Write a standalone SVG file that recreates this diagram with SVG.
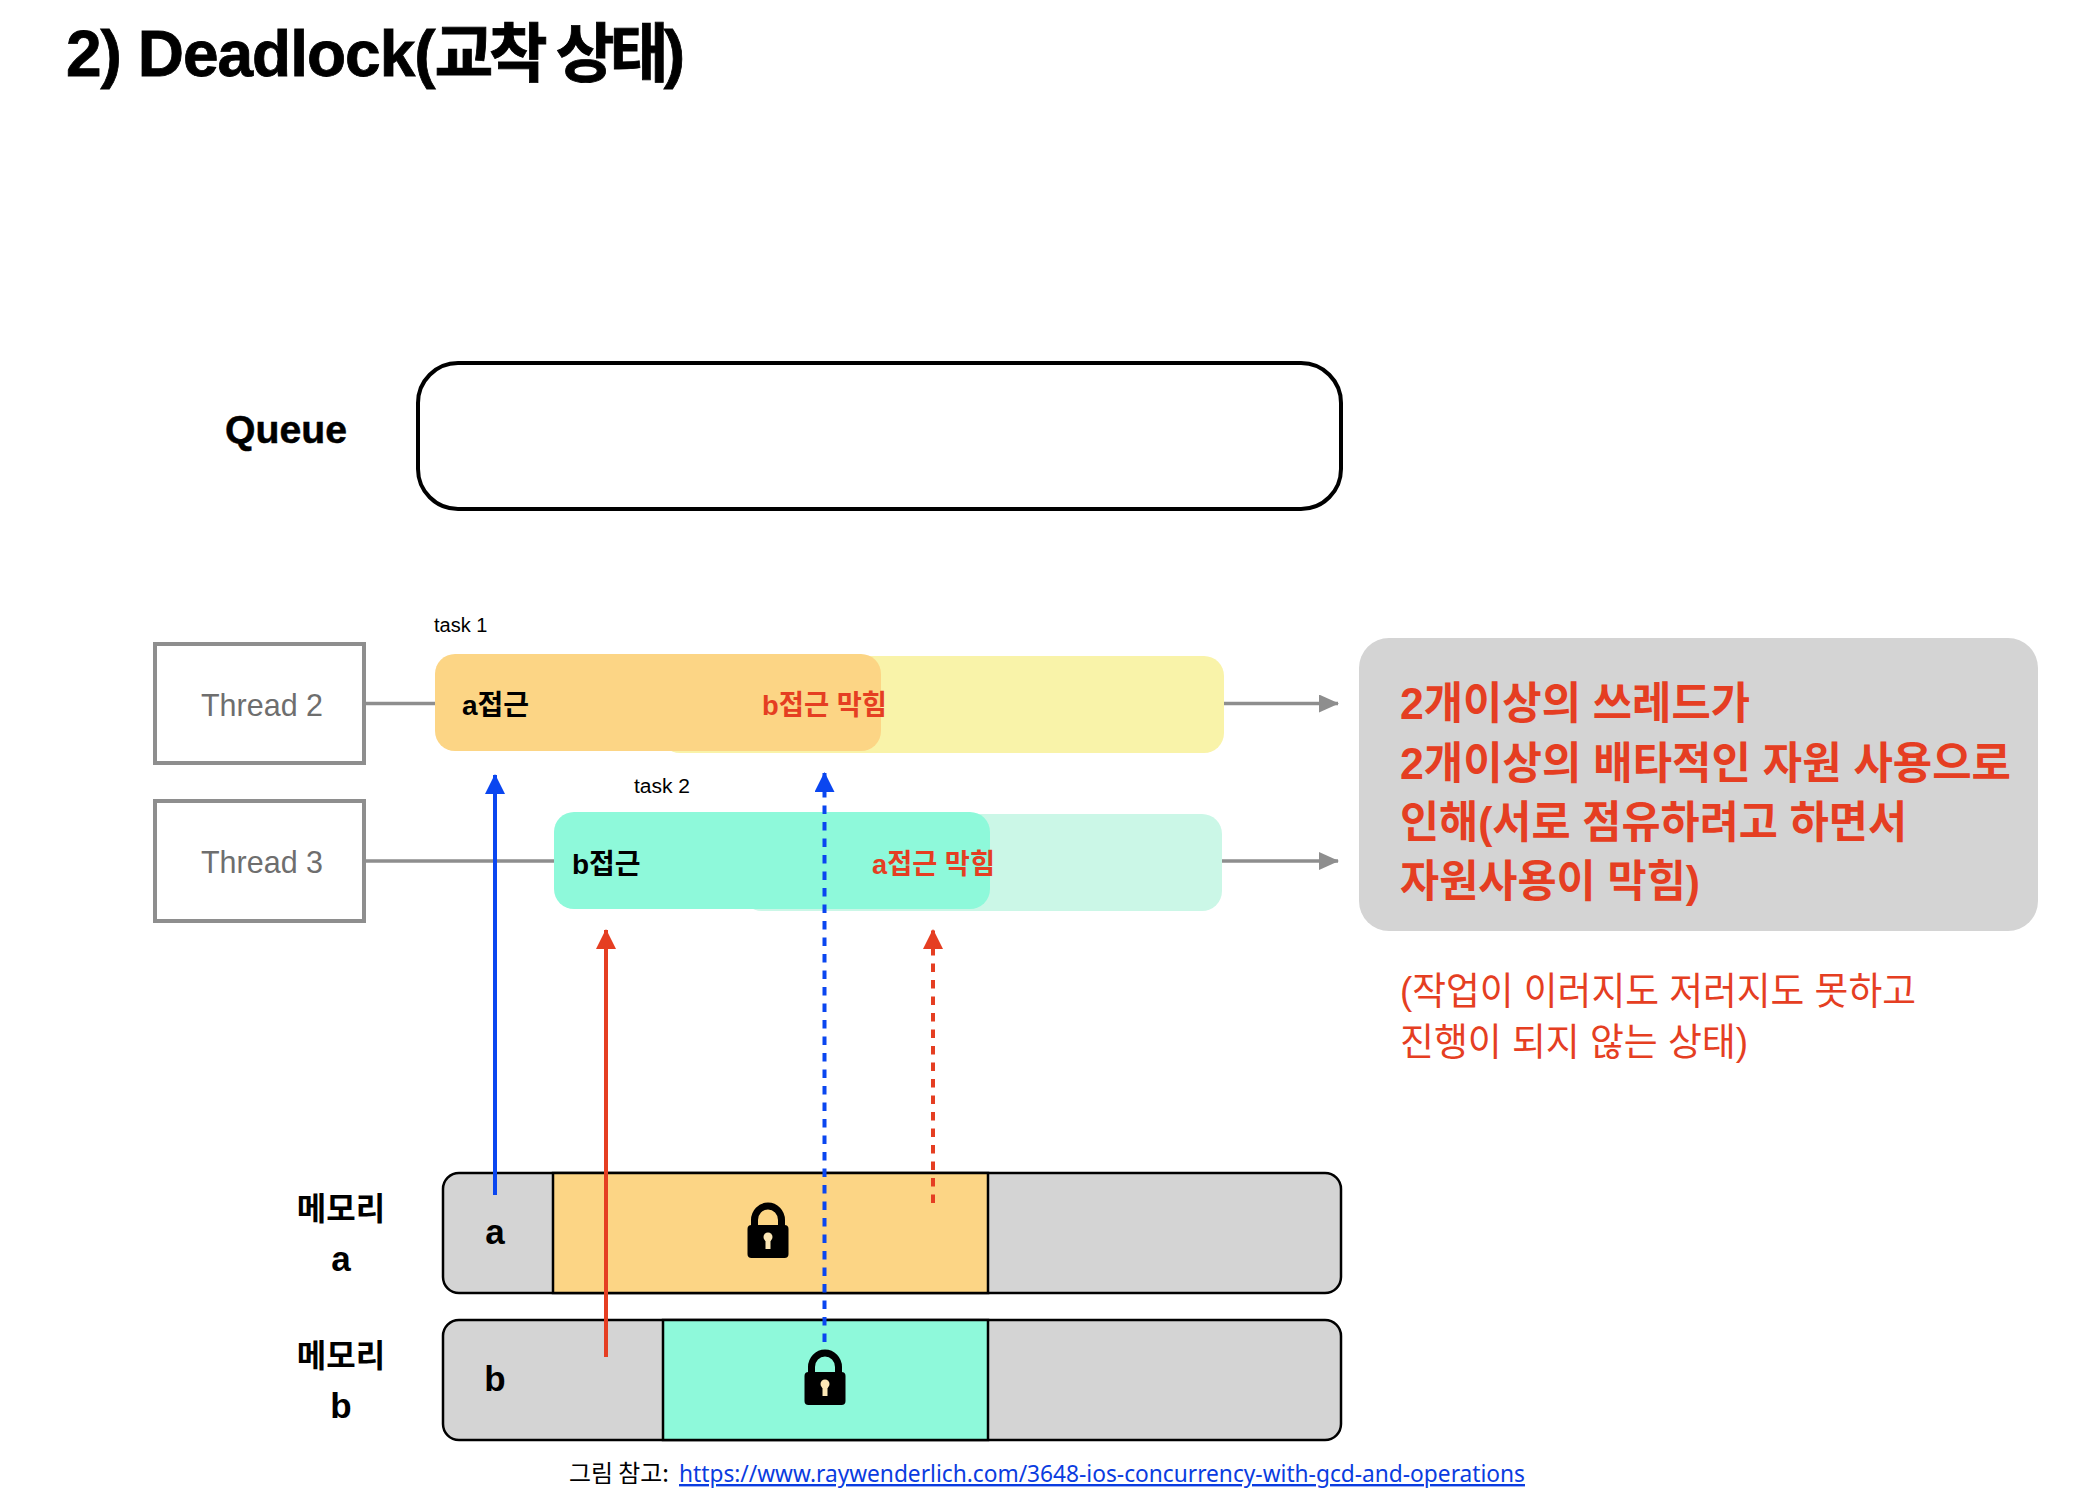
<svg xmlns="http://www.w3.org/2000/svg" width="2098" height="1504" viewBox="0 0 2098 1504">
<style>
text{font-family:"Liberation Sans","Noto Sans CJK KR",sans-serif;fill:#000}
.b{font-weight:700}
.red{fill:#E53E22}
.lab{font-size:28px;font-weight:700}
.thr{font-size:32px;fill:#6E6E6E}
.task{font-size:20px}
.mem{font-size:32px;font-weight:700;text-anchor:middle}
.ltr{font-size:35px;font-weight:700;text-anchor:middle}
.big{font-size:44px;font-weight:700;fill:#E53E22}
.sub{font-size:38px;fill:#E53E22}
.box{fill:#fff;stroke:#8E8E8E;stroke-width:4}
.bar{fill:#D4D4D4;stroke:#000;stroke-width:2.5}
.cell{stroke:#000;stroke-width:2.5}
.gl{stroke:#8E8E8E;stroke-width:3.5;fill:none}
.bl{stroke:#0A46F0;stroke-width:4;fill:none}
.rd{stroke:#E53E22;stroke-width:4;fill:none}
.dash{stroke-dasharray:8.500 8}
</style>
<defs>
<marker id="ag" markerUnits="userSpaceOnUse" markerWidth="20" markerHeight="18" refX="19" refY="9" orient="auto"><path d="M0 0L20 9L0 18Z" fill="#8E8E8E"/></marker>
<marker id="ab" markerUnits="userSpaceOnUse" markerWidth="20" markerHeight="20" refX="19" refY="10" orient="auto"><path d="M0 0L20 10L0 20Z" fill="#0A46F0"/></marker>
<marker id="ar" markerUnits="userSpaceOnUse" markerWidth="20" markerHeight="20" refX="19" refY="10" orient="auto"><path d="M0 0L20 10L0 20Z" fill="#E53E22"/></marker>
<g id="lock">
<path d="M-13.500 24V17A13.500 14 0 0 1 13.500 17V24" fill="none" stroke="#000" stroke-width="7"/>
<rect x="-20.500" y="22" width="41" height="33" rx="4" fill="#000"/>
<circle cx="0" cy="34" r="4.500" fill="#FCE7B5"/>
<rect x="-2.500" y="35" width="5" height="11" fill="#FCE7B5"/>
</g>
</defs>
<g id="title"><text class="b" x="66" y="76" font-size="64" stroke="#000" stroke-width="0.800" letter-spacing="-1">2) Deadlock(<tspan letter-spacing="-4.800">교착 상태)</tspan></text></g>
<g id="queue">
<text class="b" x="225" y="443" font-size="38" textLength="122" lengthAdjust="spacingAndGlyphs" stroke="#000" stroke-width="0.500">Queue</text>
<rect x="418" y="363" width="923" height="146" rx="40" fill="#fff" stroke="#000" stroke-width="4"/>
</g>
<g id="connectors-back">
<line class="gl" x1="365" y1="703.500" x2="436" y2="703.500"/>
<line class="gl" x1="365" y1="861" x2="556" y2="861"/>
<line class="gl" x1="1224" y1="703.500" x2="1338" y2="703.500" marker-end="url(#ag)"/>
<line class="gl" x1="1222" y1="861" x2="1338" y2="861" marker-end="url(#ag)"/>
</g>
<g id="thread2"><rect class="box" x="155" y="644" width="209" height="119"/><text class="thr" x="201" y="716" textLength="122" lengthAdjust="spacingAndGlyphs">Thread 2</text></g>
<g id="thread3"><rect class="box" x="155" y="801" width="209" height="120"/><text class="thr" x="201" y="873" textLength="122" lengthAdjust="spacingAndGlyphs">Thread 3</text></g>
<g id="task1">
<text class="task" x="434" y="632">task 1</text>
<rect x="660" y="656" width="564" height="97" rx="20" fill="#F9F3A9"/>
<rect x="435" y="654" width="446" height="97" rx="20" fill="#FCD585"/>
<text class="lab" x="462" y="715">a접근</text>
<text class="lab red" x="762" y="715" textLength="125" lengthAdjust="spacingAndGlyphs">b접근 막힘</text>
</g>
<g id="task2">
<text class="task" x="634" y="793" textLength="56" lengthAdjust="spacingAndGlyphs">task 2</text>
<rect x="742" y="814" width="480" height="97" rx="20" fill="#CBF7E7"/>
<rect x="554" y="812" width="436" height="97" rx="20" fill="#8EF9DA"/>
<text class="lab" x="572" y="874">b접근</text>
<text class="lab red" x="872" y="874" textLength="123" lengthAdjust="spacingAndGlyphs">a접근 막힘</text>
</g>
<g id="memory-a">
<text class="mem" x="341" y="1220">메모리</text>
<text class="ltr" x="341" y="1271">a</text>
<rect class="bar" x="443" y="1173" width="898" height="120" rx="16"/>
<rect class="cell" x="553" y="1173" width="435" height="120" fill="#FCD585"/>
<text class="ltr" x="495" y="1244">a</text>
<use href="#lock" x="768" y="1203"/>
</g>
<g id="memory-b">
<text class="mem" x="341" y="1367">메모리</text>
<text class="ltr" x="341" y="1418">b</text>
<rect class="bar" x="443" y="1320" width="898" height="120" rx="16"/>
<rect class="cell" x="663" y="1320" width="325" height="120" fill="#8EF9DA"/>
<text class="ltr" x="495" y="1391">b</text>
<use href="#lock" x="825" y="1350"/>
</g>
<g id="connectors">
<line class="bl" x1="495" y1="1195" x2="495" y2="775" marker-end="url(#ab)"/>
<line class="bl dash" x1="824.500" y1="1342" x2="824.500" y2="773" marker-end="url(#ab)"/>
<line class="rd" x1="606" y1="1357" x2="606" y2="930" marker-end="url(#ar)"/>
<line class="rd dash" x1="933" y1="1203" x2="933" y2="930" marker-end="url(#ar)"/>
</g>
<g id="note">
<rect x="1359" y="638" width="679" height="293" rx="30" fill="#D4D4D4"/>
<text class="big" x="1400" y="719" textLength="350" lengthAdjust="spacingAndGlyphs">2개이상의 쓰레드가</text>
<text class="big" x="1400" y="779" textLength="611" lengthAdjust="spacingAndGlyphs">2개이상의 배타적인 자원 사용으로</text>
<text class="big" x="1400" y="838" textLength="507" lengthAdjust="spacingAndGlyphs">인해(서로 점유하려고 하면서</text>
<text class="big" x="1400" y="897" textLength="300" lengthAdjust="spacingAndGlyphs">자원사용이 막힘)</text>
<text class="sub" x="1400" y="1004" textLength="516" lengthAdjust="spacingAndGlyphs">(작업이 이러지도 저러지도 못하고</text>
<text class="sub" x="1400" y="1055" textLength="348" lengthAdjust="spacingAndGlyphs">진행이 되지 않는 상태)</text>
</g>
<g id="credit">
<text x="569" y="1482" font-size="24" textLength="100" lengthAdjust="spacingAndGlyphs" style="font-family:'Noto Sans CJK KR',sans-serif">그림 참고:</text>
<text x="679" y="1482" font-size="24" style="font-family:'Noto Sans',sans-serif;fill:#0A3CE0;text-decoration:underline" textLength="846" lengthAdjust="spacingAndGlyphs">https://www.raywenderlich.com/3648-ios-concurrency-with-gcd-and-operations</text>
</g>
</svg>
